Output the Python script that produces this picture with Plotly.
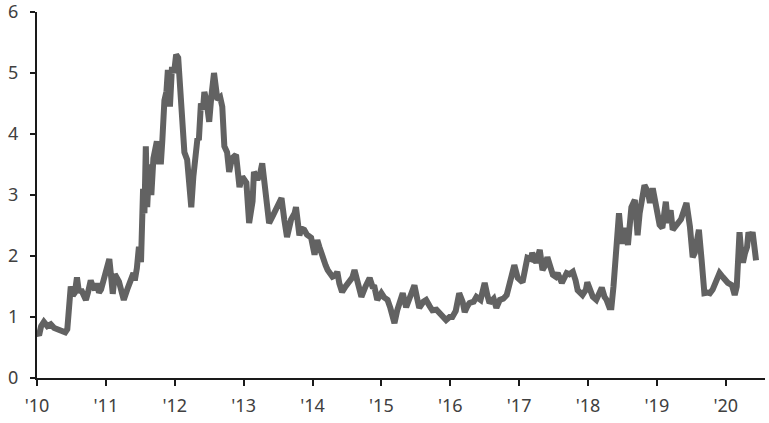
import plotly.graph_objects as go

# decimal years and values
years = [
    2010.00, 2010.03, 2010.06, 2010.10, 2010.15, 2010.20, 2010.25, 2010.32, 2010.38, 2010.41,
    2010.44, 2010.47, 2010.49, 2010.52, 2010.55, 2010.58, 2010.61, 2010.64, 2010.68, 2010.71,
    2010.74, 2010.78, 2010.81, 2010.84, 2010.87, 2010.90, 2010.93, 2010.97, 2011.00, 2011.05,
    2011.08, 2011.10, 2011.13, 2011.16, 2011.19, 2011.22, 2011.26, 2011.31, 2011.35, 2011.40,
    2011.42, 2011.45, 2011.48, 2011.51, 2011.54, 2011.56, 2011.58, 2011.60, 2011.63, 2011.66,
    2011.69, 2011.72, 2011.74, 2011.77, 2011.80, 2011.82, 2011.85, 2011.88, 2011.90, 2011.93,
    2011.96, 2011.99, 2012.02, 2012.05, 2012.08, 2012.11, 2012.14, 2012.18, 2012.21, 2012.24,
    2012.27, 2012.30, 2012.33, 2012.35, 2012.38, 2012.41, 2012.43, 2012.46, 2012.50, 2012.53,
    2012.57, 2012.62, 2012.66, 2012.69, 2012.72, 2012.76, 2012.79, 2012.83, 2012.89, 2012.94,
    2012.98, 2013.04, 2013.08, 2013.13, 2013.15, 2013.20, 2013.24, 2013.27, 2013.30, 2013.33,
    2013.37, 2013.42, 2013.44, 2013.50, 2013.55, 2013.59, 2013.63, 2013.69, 2013.74, 2013.76,
    2013.81, 2013.84, 2013.88, 2013.92, 2013.98, 2014.03, 2014.07, 2014.10, 2014.14, 2014.19,
    2014.22, 2014.26, 2014.29, 2014.33, 2014.36, 2014.39, 2014.43, 2014.48, 2014.53, 2014.58,
    2014.61, 2014.65, 2014.71, 2014.77, 2014.83, 2014.87, 2014.90, 2014.94, 2015.00, 2015.04,
    2015.09, 2015.13, 2015.19, 2015.23, 2015.26, 2015.31, 2015.36, 2015.42, 2015.48, 2015.52,
    2015.55, 2015.61, 2015.65, 2015.70, 2015.74, 2015.80, 2015.84, 2015.90, 2015.94, 2015.99,
    2016.03, 2016.08, 2016.13, 2016.18, 2016.21, 2016.25, 2016.28, 2016.34, 2016.38, 2016.44,
    2016.50, 2016.54, 2016.57, 2016.63, 2016.67, 2016.72, 2016.77, 2016.82, 2016.86, 2016.89,
    2016.93, 2016.98, 2017.02, 2017.05, 2017.09, 2017.12, 2017.17, 2017.19, 2017.25, 2017.30,
    2017.34, 2017.38, 2017.41, 2017.46, 2017.49, 2017.53, 2017.56, 2017.62, 2017.66, 2017.69,
    2017.73, 2017.78, 2017.82, 2017.85, 2017.92, 2017.97, 2017.99, 2018.04, 2018.07, 2018.12,
    2018.17, 2018.20, 2018.24, 2018.27, 2018.31, 2018.34, 2018.37, 2018.39, 2018.42, 2018.45,
    2018.49, 2018.53, 2018.58, 2018.60, 2018.63, 2018.68, 2018.72, 2018.75, 2018.78, 2018.82,
    2018.87, 2018.90, 2018.94, 2018.97, 2019.00, 2019.04, 2019.08, 2019.13, 2019.16, 2019.20,
    2019.23, 2019.27, 2019.30, 2019.35, 2019.38, 2019.43, 2019.48, 2019.52, 2019.55, 2019.58,
    2019.61, 2019.65, 2019.69, 2019.74, 2019.77, 2019.81, 2019.84, 2019.88, 2019.91, 2019.96,
    2019.99, 2020.03, 2020.09, 2020.13, 2020.16, 2020.17, 2020.20, 2020.23, 2020.25, 2020.28,
    2020.31, 2020.33, 2020.36, 2020.39, 2020.42, 2020.44,
]
values = [
    0.75, 0.70, 0.85, 0.92, 0.85, 0.88, 0.82, 0.80, 0.78, 0.75,
    0.80, 1.10, 1.50, 1.35, 1.40, 1.65, 1.40, 1.45, 1.35, 1.28,
    1.40, 1.60, 1.50, 1.45, 1.55, 1.40, 1.45, 1.60, 1.68, 1.95,
    1.62, 1.38, 1.70, 1.65, 1.58, 1.45, 1.28, 1.45, 1.60, 1.72,
    1.60, 1.80, 2.15, 1.90, 3.10, 2.70, 3.80, 2.80, 3.50, 3.00,
    3.60, 3.80, 3.88, 3.55, 3.55, 3.90, 4.55, 4.70, 5.05, 4.45,
    5.10, 5.00, 5.30, 5.25, 4.80, 4.20, 3.70, 3.58, 3.20, 2.80,
    3.30, 3.70, 3.93, 3.90, 4.50, 4.40, 4.69, 4.55, 4.20, 4.60,
    5.00, 4.56, 4.60, 4.45, 3.80, 3.70, 3.38, 3.60, 3.66, 3.13,
    3.30, 3.20, 2.54, 2.90, 3.38, 3.25, 3.35, 3.52, 3.20, 2.92,
    2.54, 2.65, 2.70, 2.85, 2.95, 2.60, 2.31, 2.60, 2.70, 2.80,
    2.34, 2.45, 2.43, 2.35, 2.30, 2.02, 2.26, 2.15, 1.98, 1.85,
    1.77, 1.72, 1.66, 1.68, 1.74, 1.55, 1.41, 1.50, 1.60, 1.65,
    1.77, 1.55, 1.33, 1.50, 1.64, 1.50, 1.49, 1.28, 1.39, 1.32,
    1.28, 1.15, 0.90, 1.11, 1.20, 1.39, 1.16, 1.35, 1.52, 1.30,
    1.15, 1.25, 1.28, 1.18, 1.11, 1.12, 1.07, 1.00, 0.95, 1.00,
    1.00, 1.10, 1.39, 1.25, 1.08, 1.18, 1.23, 1.25, 1.33, 1.28,
    1.56, 1.35, 1.23, 1.30, 1.15, 1.28, 1.30, 1.36, 1.55, 1.72,
    1.85, 1.64, 1.60, 1.57, 1.80, 1.97, 1.95, 2.05, 1.89, 2.10,
    1.77, 1.85, 1.98, 1.80, 1.69, 1.66, 1.72, 1.56, 1.65, 1.72,
    1.70, 1.74, 1.60, 1.44, 1.36, 1.45, 1.57, 1.45, 1.33, 1.28,
    1.40, 1.48, 1.33, 1.28, 1.16, 1.16, 1.50, 1.77, 2.40, 2.70,
    2.20, 2.46, 2.18, 2.50, 2.80, 2.92, 2.34, 2.70, 2.92, 3.16,
    3.05, 2.87, 3.11, 2.95, 2.70, 2.51, 2.46, 2.89, 2.54, 2.75,
    2.43, 2.50, 2.54, 2.60, 2.70, 2.87, 2.48, 1.98, 2.05, 2.21,
    2.43, 1.93, 1.39, 1.40, 1.39, 1.45, 1.52, 1.60, 1.72, 1.65,
    1.60, 1.56, 1.52, 1.36, 1.50, 1.77, 2.39, 2.00, 1.89, 2.05,
    2.15, 2.39, 2.30, 2.39, 2.10, 1.93,
]

tick_years = [2010, 2011, 2012, 2013, 2014, 2015, 2016, 2017, 2018, 2019, 2020]
tick_labels = ["'10", "'11", "'12", "'13", "'14", "'15", "'16", "'17", "'18", "'19", "'20"]

fig = go.Figure()

fig.add_trace(go.Scatter(
    x=years,
    y=values,
    mode='lines',
    line=dict(color='#626262', width=6),
    hoverinfo='x+y'
))

fig.update_layout(
    width=769,
    height=423,
    showlegend=False,
    paper_bgcolor='white',
    plot_bgcolor='white',
    margin=dict(l=37, r=4, t=12, b=45),
    font=dict(family='Noto Sans', size=18, color='#404040'),
    xaxis=dict(
        range=[2010, 2020.57],
        tickvals=tick_years,
        ticktext=tick_labels,
        automargin=False,
        showgrid=False,
        zeroline=False,
        showline=True,
        linecolor='#1a1a1a',
        linewidth=2,
        ticks='outside',
        ticklen=6,
        tickwidth=2,
        tickcolor='#1a1a1a',
        ticklabelstandoff=4,
        ticklabeloverflow='allow',
    ),
    yaxis=dict(
        range=[0, 6],
        tickvals=[0, 1, 2, 3, 4, 5, 6],
        automargin=False,
        showgrid=False,
        zeroline=False,
        showline=True,
        linecolor='#1a1a1a',
        linewidth=2,
        ticks='outside',
        ticklen=5,
        tickwidth=2,
        tickcolor='#1a1a1a',
        ticklabelstandoff=8,
        ticklabeloverflow='allow',
    ),
)

# drop the browser's default 8px body margin so the figure fills the window
fig.write_html(
    "out.html",
    config={'displayModeBar': False},
    post_script="document.body.style.margin='0';",
)
